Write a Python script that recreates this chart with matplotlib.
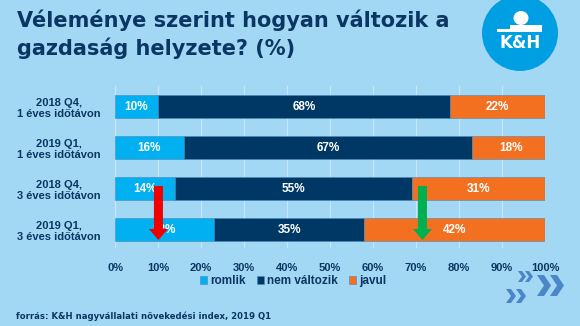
import matplotlib.pyplot as plt
from matplotlib.patches import Ellipse, Polygon

# survey rows, top to bottom
rows = ["2018 Q4,\n1 éves időtávon", "2019 Q1,\n1 éves időtávon",
        "2018 Q4,\n3 éves időtávon", "2019 Q1,\n3 éves időtávon"]
romlik = [10, 16, 14, 23]
nem_valtozik = [68, 67, 55, 35]
javul = [22, 18, 31, 42]
series_names = ["romlik", "nem változik", "javul"]
xticks = list(range(0, 101, 10))

BG = "#a3d8f5"
NAVY = "#0b3664"
colors = ["#00b0f0", "#003865", "#f37021"]

W, H = 580, 326
fig = plt.figure(figsize=(W / 100, H / 100), dpi=100, facecolor=BG)


def fx(x):
    return x / W


def fy(y):
    return 1 - y / H


ax = fig.add_axes([fx(115), fy(248), fx(545) - fx(115), (248 - 86) / H])
ax.set_facecolor(BG)
ypos = list(range(len(rows)))
left = [0] * len(rows)
for name, vals, c in zip(series_names, [romlik, nem_valtozik, javul], colors):
    ax.barh(ypos, vals, left=left, height=0.56, color=c, label=name,
            edgecolor="#4f86b8", linewidth=0.4, zorder=3)
    for y, l, v in zip(ypos, left, vals):
        ax.text(l + v / 2, y, "%d%%" % v, ha="center", va="center",
                color="white", fontsize=8.5, fontweight="bold",
                family="Liberation Sans", zorder=4)
    left = [l + v for l, v in zip(left, vals)]

ax.set_xlim(0, 100)
ax.set_ylim(3.45, -0.5)
ax.set_xticks(xticks)
ax.set_xticklabels(["%d%%" % t for t in xticks], fontsize=8, fontweight="bold",
                   color=NAVY, family="Liberation Sans")
ax.set_yticks(ypos)
ax.set_yticklabels(rows, fontsize=8, fontweight="bold", color=NAVY,
                   family="Liberation Sans", ma="center")
ax.tick_params(length=0)
ax.tick_params(axis="x", pad=11)
ax.tick_params(axis="y", pad=10)
for s in ax.spines.values():
    s.set_visible(False)
ax.grid(axis="x", color="#c8e8fa", linewidth=0.8, zorder=0)

leg = ax.legend(loc="center", bbox_to_anchor=(fx(293), fy(281)),
                bbox_transform=fig.transFigure, ncol=3, frameon=False,
                handlelength=0.6, handleheight=0.6, handletextpad=0.3,
                columnspacing=0.9,
                prop={"family": "Liberation Sans", "weight": "bold", "size": 8.5})
for t in leg.get_texts():
    t.set_color(NAVY)

# arrows (x in percent, between row 3 and row 4)
fig.canvas.draw()


def poly(pts, color, z=10):
    fig.patches.append(Polygon([(fx(x), fy(y)) for x, y in pts], closed=True,
                               transform=fig.transFigure, facecolor=color,
                               edgecolor="none", zorder=z))


def arrow(xval, color):
    cx = ax.transData.transform((xval, 0))[0]
    pts = [(cx - 4.5, 186), (cx + 4.5, 186), (cx + 4.5, 229), (cx + 9.5, 229),
           (cx, 240), (cx - 9.5, 229), (cx - 4.5, 229)]
    poly(pts, color)


arrow(10.1, "#f20000")
arrow(71.5, "#00b050")

fig.text(fx(17), fy(20), "Véleménye szerint hogyan változik a",
         fontsize=15, fontweight="bold", color=NAVY, va="center",
         family="DejaVu Sans")
fig.text(fx(17), fy(48), "gazdaság helyzete? (%)",
         fontsize=15, fontweight="bold", color=NAVY, va="center",
         family="DejaVu Sans")
fig.text(fx(16), fy(316), "forrás: K&H nagyvállalati növekedési index, 2019 Q1",
         fontsize=6.1, fontweight="bold", color=NAVY, va="center",
         family="DejaVu Sans")

# logo
fig.patches.append(Ellipse((fx(520), fy(33)), 76 / W, 76 / H,
                           transform=fig.transFigure,
                           facecolor="#009fe3", edgecolor="none"))
fig.patches.append(Ellipse((fx(521), fy(18)), 15 / W, 14 / H,
                           transform=fig.transFigure, facecolor="white"))
poly([(497, 29), (510, 29), (510, 25), (542, 25), (542, 32), (497, 32)], "white")
fig.text(fx(520), fy(42.5), "K&H", ha="center", va="center", color="white",
         fontsize=12, fontweight="bold", family="DejaVu Sans")

# chevrons
chev = "#4a86c8"


def chevron(x, y, w, h, t):
    poly([(x, y), (x + t, y), (x + w, y + h / 2), (x + t, y + h), (x, y + h),
          (x + w - t, y + h / 2)], chev, z=1)


for x0 in (537, 550):
    chevron(x0, 275, 14, 21, 7)
for x0 in (518, 525):
    chevron(x0, 271, 8, 11, 4)
for x0 in (506, 516):
    chevron(x0, 289, 10, 14, 5)

fig.savefig("out.png", dpi=100, facecolor=BG)
